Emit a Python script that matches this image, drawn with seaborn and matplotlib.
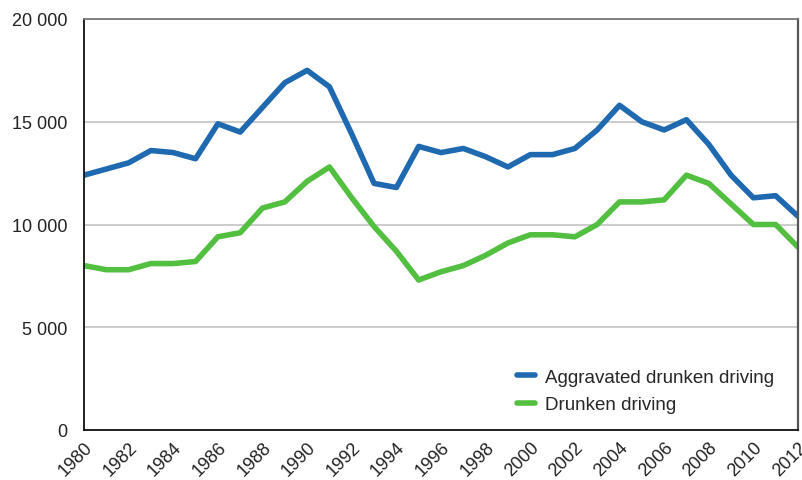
import matplotlib
matplotlib.use("Agg")
import matplotlib.pyplot as plt
import matplotlib.ticker as mticker
import numpy as np
import pandas as pd
import seaborn as sns

years = list(range(1980, 2013))
aggravated = [12400, 12700, 13000, 13600, 13500, 13200, 14900, 14500, 15700, 16900,
              17500, 16700, 14400, 12000, 11800, 13800, 13500, 13700, 13300, 12800,
              13400, 13400, 13700, 14600, 15800, 15000, 14600, 15100, 13900, 12400,
              11300, 11400, 10400]
drunken = [8000, 7800, 7800, 8100, 8100, 8200, 9400, 9600, 10800, 11100,
           12100, 12800, 11300, 9900, 8700, 7300, 7700, 8000, 8500, 9100,
           9500, 9500, 9400, 10000, 11100, 11100, 11200, 12400, 12000, 11000,
           10000, 10000, 8900]
series_names = ["Aggravated drunken driving", "Drunken driving"]
colors = ["#1f69b1", "#52bf40"]

df = pd.DataFrame({"year": years, series_names[0]: aggravated, series_names[1]: drunken})
long_df = df.melt(id_vars="year", var_name="series", value_name="value")

sns.set_theme(style="white")
plt.rcParams["font.family"] = ["Liberation Sans", "DejaVu Sans"]

fig = plt.figure(figsize=(8.03, 4.81), dpi=100)
ax = fig.add_axes([84 / 803, 1 - 431 / 481, (798 - 84) / 803, (431 - 20) / 481])

sns.lineplot(data=long_df, x="year", y="value", hue="series", palette=colors,
             linewidth=4, ax=ax, legend=True)

ax.set_xlim(1980, 2012)
ax.set_ylim(0, 20000)
ax.set_xticks(list(range(1980, 2013, 2)))
ax.set_yticks([0, 5000, 10000, 15000, 20000])
ax.yaxis.set_major_formatter(mticker.FuncFormatter(lambda v, p: f"{int(v):,}".replace(",", " ")))
ax.grid(axis="y", color="#c8c8c8", linewidth=1.3)
ax.set_axisbelow(True)
ax.set_xlabel("")
ax.set_ylabel("")

for lbl in ax.get_xticklabels():
    lbl.set_rotation(45)
    lbl.set_ha("right")
    lbl.set_rotation_mode("anchor")
ax.tick_params(axis="both", labelsize=13, colors="#222222", length=0)
ax.tick_params(axis="x", pad=6)
ax.tick_params(axis="y", pad=12)

for side in ["left", "bottom", "top"]:
    ax.spines[side].set_color("#111111")
    ax.spines[side].set_linewidth(1.3)
ax.spines["right"].set_color("#555555")
ax.spines["right"].set_linewidth(1.6)
ax.spines["top"].set_color("#777777")

leg = ax.legend(loc="lower right", bbox_to_anchor=(0.99, 0.0), frameon=False,
                fontsize=13.5, handlelength=0.95, handletextpad=0.55, labelspacing=0.55)
for line in leg.get_lines():
    line.set_linewidth(4)

fig.savefig("out.png", dpi=100)
